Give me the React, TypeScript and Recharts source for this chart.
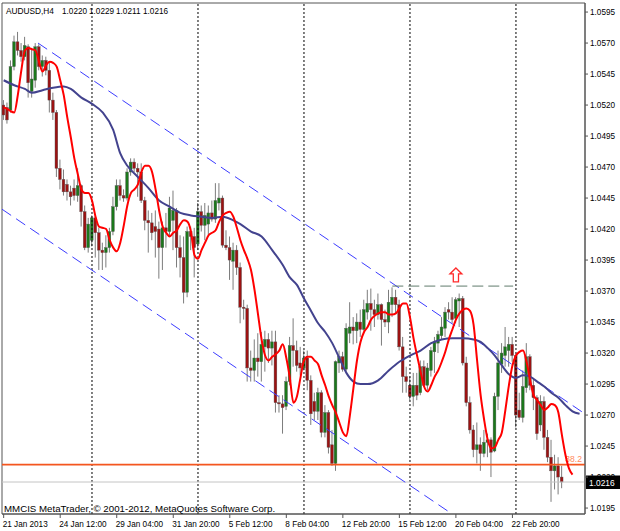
import React from 'react';
import { ComposedChart, Bar, Line, XAxis, YAxis, ReferenceLine, ReferenceDot, ReferenceArea } from 'recharts';

const FONT = '"Liberation Sans", Arial, sans-serif';

const openP = [
1.0520,1.0518,1.0516,1.0551,1.0571,1.0564,1.0559,1.0567,1.0531,1.0540,
1.0567,1.0551,1.0556,1.0548,1.0524,1.0514,1.0469,1.0460,1.0456,1.0450,
1.0453,1.0447,1.0455,1.0434,1.0405,1.0411,1.0429,1.0417,1.0403,1.0401,
1.0405,1.0418,1.0438,1.0455,1.0447,1.0445,1.0466,1.0474,1.0469,1.0466,
1.0443,1.0427,1.0425,1.0422,1.0420,1.0405,1.0421,1.0418,1.0427,1.0435,
1.0405,1.0397,1.0369,1.0418,1.0414,1.0408,1.0434,1.0423,1.0424,1.0433,
1.0428,1.0441,1.0445,1.0407,1.0405,1.0394,1.0403,1.0389,1.0357,1.0356,
1.0308,1.0306,1.0316,1.0313,1.0325,1.0331,1.0324,1.0329,1.0280,1.0279,
1.0277,1.0297,1.0326,1.0322,1.0312,1.0308,1.0316,1.0298,1.0281,1.0273,
1.0288,1.0256,1.0272,1.0246,1.0231,1.0312,1.0317,1.0307,1.0336,1.0341,
1.0338,1.0345,1.0339,1.0353,1.0360,1.0355,1.0351,1.0359,1.0347,1.0345,
1.0359,1.0365,1.0359,1.0325,1.0301,1.0294,1.0285,1.0294,1.0288,1.0309,
1.0294,1.0306,1.0321,1.0328,1.0334,1.0340,1.0355,1.0353,1.0348,1.0362,
1.0364,1.0312,1.0280,1.0258,1.0242,1.0246,1.0239,1.0248,1.0250,1.0241,
1.0285,1.0311,1.0318,1.0322,1.0327,1.0318,1.0274,1.0268,1.0292,1.0317,
1.0294,1.0284,1.0262,1.0281,1.0252,1.0236,1.0225,1.0229,1.0220];

const highP = [
1.0524,1.0522,1.0556,1.0576,1.0579,1.0570,1.0575,1.0569,1.0566,1.0570,
1.0569,1.0560,1.0559,1.0555,1.0530,1.0516,1.0476,1.0468,1.0460,1.0455,
1.0460,1.0469,1.0456,1.0439,1.0429,1.0431,1.0431,1.0421,1.0409,1.0415,
1.0421,1.0446,1.0460,1.0460,1.0452,1.0469,1.0477,1.0477,1.0473,1.0473,
1.0446,1.0435,1.0433,1.0435,1.0426,1.0426,1.0433,1.0446,1.0451,1.0437,
1.0415,1.0414,1.0422,1.0422,1.0421,1.0441,1.0439,1.0441,1.0439,1.0443,
1.0457,1.0457,1.0447,1.0419,1.0414,1.0409,1.0407,1.0393,1.0363,1.0359,
1.0322,1.0331,1.0336,1.0337,1.0338,1.0336,1.0338,1.0338,1.0286,1.0286,
1.0301,1.0333,1.0348,1.0330,1.0325,1.0322,1.0322,1.0302,1.0288,1.0292,
1.0290,1.0278,1.0274,1.0258,1.0314,1.0322,1.0321,1.0344,1.0361,1.0349,
1.0352,1.0355,1.0363,1.0371,1.0372,1.0363,1.0368,1.0360,1.0355,1.0371,
1.0373,1.0371,1.0363,1.0333,1.0309,1.0301,1.0304,1.0304,1.0314,1.0314,
1.0312,1.0325,1.0333,1.0338,1.0349,1.0357,1.0361,1.0365,1.0365,1.0368,
1.0366,1.0317,1.0285,1.0262,1.0264,1.0252,1.0258,1.0255,1.0252,1.0288,
1.0322,1.0328,1.0341,1.0333,1.0333,1.0319,1.0288,1.0306,1.0328,1.0319,
1.0300,1.0286,1.0286,1.0285,1.0258,1.0250,1.0238,1.0236,1.0229];

const lowP = [
1.0508,1.0505,1.0514,1.0548,1.0560,1.0555,1.0556,1.0526,1.0526,1.0534,
1.0548,1.0543,1.0544,1.0514,1.0508,1.0462,1.0452,1.0447,1.0443,1.0439,
1.0443,1.0442,1.0422,1.0403,1.0401,1.0406,1.0397,1.0387,1.0387,1.0389,
1.0401,1.0415,1.0435,1.0443,1.0442,1.0443,1.0463,1.0466,1.0446,1.0441,
1.0419,1.0401,1.0411,1.0397,1.0380,1.0387,1.0405,1.0414,1.0403,1.0389,
1.0381,1.0360,1.0365,1.0403,1.0381,1.0403,1.0418,1.0411,1.0415,1.0426,
1.0425,1.0435,1.0405,1.0403,1.0379,1.0371,1.0383,1.0344,1.0347,1.0297,
1.0297,1.0297,1.0301,1.0297,1.0305,1.0312,1.0310,1.0272,1.0272,1.0255,
1.0274,1.0294,1.0309,1.0305,1.0302,1.0306,1.0290,1.0262,1.0266,1.0266,
1.0252,1.0252,1.0239,1.0229,1.0225,1.0304,1.0305,1.0305,1.0328,1.0327,
1.0328,1.0333,1.0338,1.0347,1.0338,1.0341,1.0347,1.0326,1.0341,1.0336,
1.0349,1.0352,1.0322,1.0288,1.0288,1.0282,1.0277,1.0282,1.0286,1.0293,
1.0290,1.0301,1.0304,1.0320,1.0331,1.0333,1.0347,1.0344,1.0344,1.0341,
1.0310,1.0277,1.0255,1.0236,1.0231,1.0225,1.0236,1.0236,1.0220,1.0240,
1.0274,1.0304,1.0309,1.0309,1.0313,1.0260,1.0266,1.0264,1.0288,1.0290,
1.0274,1.0250,1.0257,1.0242,1.0232,1.0200,1.0210,1.0206,1.0211];

const closeP = [
1.0512,1.0508,1.0551,1.0571,1.0564,1.0559,1.0568,1.0538,1.0541,1.0567,
1.0551,1.0556,1.0548,1.0524,1.0514,1.0469,1.0460,1.0450,1.0450,1.0446,
1.0447,1.0455,1.0434,1.0405,1.0424,1.0429,1.0417,1.0403,1.0401,1.0405,
1.0418,1.0438,1.0455,1.0447,1.0445,1.0466,1.0474,1.0469,1.0466,1.0443,
1.0427,1.0425,1.0417,1.0418,1.0405,1.0421,1.0418,1.0437,1.0435,1.0405,
1.0397,1.0369,1.0418,1.0414,1.0405,1.0434,1.0423,1.0431,1.0433,1.0428,
1.0443,1.0445,1.0407,1.0405,1.0395,1.0403,1.0389,1.0357,1.0356,1.0308,
1.0306,1.0316,1.0313,1.0327,1.0331,1.0324,1.0329,1.0280,1.0279,1.0276,
1.0297,1.0326,1.0322,1.0310,1.0308,1.0316,1.0298,1.0271,1.0273,1.0288,
1.0256,1.0272,1.0244,1.0231,1.0313,1.0317,1.0307,1.0340,1.0341,1.0338,
1.0345,1.0339,1.0355,1.0360,1.0355,1.0351,1.0359,1.0347,1.0345,1.0361,
1.0365,1.0359,1.0325,1.0301,1.0297,1.0285,1.0294,1.0286,1.0309,1.0294,
1.0308,1.0322,1.0329,1.0335,1.0341,1.0353,1.0353,1.0347,1.0363,1.0364,
1.0312,1.0280,1.0258,1.0242,1.0246,1.0239,1.0248,1.0250,1.0240,1.0285,
1.0312,1.0320,1.0325,1.0327,1.0318,1.0270,1.0268,1.0293,1.0317,1.0294,
1.0284,1.0255,1.0281,1.0252,1.0236,1.0225,1.0229,1.0220,1.0216];

const redMA = [
1.0518,1.0517,1.0515,1.0514,1.0528,1.0548,1.0564,1.0566,1.0565,1.0564,
1.0555,1.0547,1.0552,1.0555,1.0554,1.0551,1.0540,1.0528,1.0510,1.0494,
1.0477,1.0464,1.0452,1.0449,1.0449,1.0443,1.0430,1.0422,1.0421,1.0420,
1.0411,1.0405,1.0402,1.0409,1.0423,1.0439,1.0449,1.0452,1.0456,1.0466,
1.0471,1.0471,1.0466,1.0452,1.0435,1.0422,1.0417,1.0414,1.0417,1.0419,
1.0424,1.0427,1.0426,1.0418,1.0399,1.0396,1.0403,1.0409,1.0415,1.0417,
1.0419,1.0426,1.0431,1.0433,1.0434,1.0430,1.0421,1.0411,1.0403,1.0396,
1.0387,1.0371,1.0351,1.0331,1.0318,1.0314,1.0317,1.0319,1.0322,1.0327,
1.0316,1.0300,1.0280,1.0285,1.0300,1.0314,1.0317,1.0317,1.0314,1.0311,
1.0302,1.0294,1.0285,1.0278,1.0272,1.0264,1.0256,1.0253,1.0270,1.0292,
1.0314,1.0329,1.0337,1.0341,1.0347,1.0350,1.0352,1.0353,1.0353,1.0351,
1.0351,1.0352,1.0356,1.0360,1.0360,1.0349,1.0332,1.0318,1.0305,1.0293,
1.0289,1.0294,1.0301,1.0306,1.0313,1.0321,1.0331,1.0339,1.0347,1.0352,
1.0355,1.0356,1.0354,1.0343,1.0314,1.0286,1.0266,1.0250,1.0243,1.0244,
1.0250,1.0256,1.0274,1.0294,1.0310,1.0318,1.0321,1.0322,1.0313,1.0298,
1.0286,1.0282,1.0278,1.0274,1.0276,1.0279,1.0278,1.0272,1.0254,1.0238,
1.0227,1.0222];

const navyIdx = [0,3,6,8,11,14,17,19,22,25,28,31,33,35,38,41,44,47,50,53,56,59,62,65,67,70,73,76,79,81,83,85,87,89,91,93,95,97,99,101,103,106,109,112,115,118,121,124,127,130,133,135,137,139,141,143,145,147,149,151,153,155,157,159,161,163];
const navyMA = [1.0540,1.0536,1.0533,1.0530,1.0532,1.0534,1.0535,1.0533,1.0526,1.0521,1.0514,1.0500,1.0481,1.0471,1.0462,1.0453,1.0443,1.0438,1.0433,1.0431,1.0430,1.0429,1.0430,1.0427,1.0424,1.0418,1.0414,1.0403,1.0391,1.0381,1.0375,1.0364,1.0354,1.0344,1.0337,1.0328,1.0316,1.0304,1.0297,1.0295,1.0295,1.0298,1.0306,1.0313,1.0318,1.0322,1.0328,1.0331,1.0332,1.0332,1.0331,1.0329,1.0324,1.0318,1.0310,1.0303,1.0300,1.0302,1.0301,1.0297,1.0293,1.0288,1.0284,1.0278,1.0273,1.0271];

const priceTicks = [1.0195,1.0220,1.0245,1.0270,1.0295,1.0320,1.0345,1.0370,1.0395,1.0420,1.0445,1.0470,1.0495,1.0520,1.0545,1.0570,1.0595];
const timeTicks = [0,16,32,48,64,80,96,112,128,144];
const timeLabels = ['21 Jan 2013','24 Jan 12:00','29 Jan 04:00','31 Jan 20:00','5 Feb 12:00','8 Feb 04:00','12 Feb 20:00','15 Feb 12:00','20 Feb 04:00','22 Feb 20:00'];
const weekStarts = [25,55,85,115,145];

const upperChannel = [{ x: 9.72, y: 1.0570 }, { x: 164.5, y: 1.0271 }];
const lowerChannel = [{ x: -0.47, y: 1.0436 }, { x: 126, y: 1.0192 }];
const resistance = [{ x: 110, y: 1.0374 }, { x: 144.2, y: 1.0374 }];
const fibLevel = 1.0230;
const fibText = '38.2';
const lastPrice = 1.0216;
const signalBar = 128;
const signalPrice = 1.0383;
const headerSymbol = 'AUDUSD,H4';
const headerValues = ['1.0220', '1.0229', '1.0211', '1.0216'];
const copyrightText = 'MMCIS MetaTrader, \u00a9 2001-2012, MetaQuotes Software Corp.';

const X_DOMAIN: [number, number] = [-0.473, 164.54];
const Y_DOMAIN: [number, number] = [1.01902, 1.06023];

const rows = Array.from({ length: 164 }, (_, i) => {
  const r: any = { i };
  if (i < openP.length) {
    r.range = [lowP[i], highP[i]];
    r.o = openP[i]; r.h = highP[i]; r.l = lowP[i]; r.c = closeP[i];
  }
  if (i < redMA.length) r.red = redMA[i];
  const k = navyIdx.indexOf(i);
  if (k >= 0) r.navy = navyMA[k];
  return r;
});

const Candle = (props: any) => {
  const { x, y, width, height, payload } = props;
  if (!payload || payload.o === undefined || !isFinite(y) || !isFinite(height)) return <g />;
  const { o, c, h, l } = payload;
  const top = Math.min(y, y + height);
  const hh = Math.abs(height);
  const span = h - l;
  const toY = (v: number) => (span === 0 ? top : top + ((h - v) / span) * hh);
  const cx = x + width / 2;
  const yo = toY(o);
  const yc = toY(c);
  const bt = Math.min(yo, yc);
  const bb = Math.max(yo, yc);
  const up = c >= o;
  return (
    <g>
      <line x1={cx} x2={cx} y1={top} y2={top + hh} stroke="#7c7c7c" strokeWidth={1} />
      <rect x={cx - 1.4} y={bt} width={2.8} height={Math.max(bb - bt, 1)} fill={up ? '#1b781b' : '#9c1212'} stroke="#555" strokeWidth={0.4} />
    </g>
  );
};

const TimeTick = (props: any) => {
  const { x, y, payload } = props;
  const k = timeTicks.indexOf(payload.value);
  return (
    <g>
      <line x1={x} x2={x} y1={y} y2={y + 4} stroke="#555" strokeWidth={1} />
      <text x={x - 1} y={y + 13} fontSize={8.2} fontFamily={FONT} fill="#000" textAnchor="start">
        {k >= 0 ? timeLabels[k] : ''}
      </text>
    </g>
  );
};

const PriceTag = (props: any) => {
  const vb = props.viewBox || {};
  const x0 = vb.x + vb.width;
  const yy = vb.y;
  return (
    <g>
      <rect x={x0 + 1} y={yy - 6.5} width={34} height={13.5} fill="#000" />
      <text x={x0 + 4} y={yy + 3.5} fontSize={8.4} fontFamily={FONT} fill="#fff">{lastPrice.toFixed(4)}</text>
    </g>
  );
};

const FibLabel = (props: any) => {
  const vb = props.viewBox || {};
  return (
    <text x={vb.x + vb.width - 3} y={vb.y - 3} fontSize={8.6} fontFamily={FONT} fill="#ff8a5c" textAnchor="end">
      {fibText}
    </text>
  );
};

const UpArrow = (props: any) => {
  const { cx, cy } = props;
  if (!isFinite(cx) || !isFinite(cy)) return <g />;
  const pts = [
    [cx, cy - 7], [cx + 6, cy - 1], [cx + 2.6, cy - 1], [cx + 2.6, cy + 7],
    [cx - 2.6, cy + 7], [cx - 2.6, cy - 1], [cx - 6, cy - 1],
  ].map((p) => p.join(',')).join(' ');
  return <polygon points={pts} fill="#fff" stroke="#ff2a2a" strokeWidth={1.3} />;
};

const headerX = [62, 89, 116, 143];

export default function App() {
  return (
    <div style={{ position: 'absolute', left: 0, top: 0, width: 620, height: 531, background: '#fff', fontFamily: FONT }}>
      <ComposedChart
        width={620}
        height={531}
        data={rows}
        margin={{ top: 3, right: 0, bottom: 0, left: 2 }}
      >
        <XAxis
          dataKey="i"
          type="number"
          domain={X_DOMAIN}
          allowDataOverflow
          ticks={timeTicks}
          interval={0}
          tick={<TimeTick />}
          tickLine={false}
          tickSize={0}
          tickMargin={0}
          height={17}
          axisLine={{ stroke: '#555' }}
        />
        <YAxis
          orientation="right"
          type="number"
          domain={Y_DOMAIN}
          allowDataOverflow
          ticks={priceTicks}
          interval={0}
          width={35}
          tickSize={3}
          tickMargin={2}
          tickFormatter={(v: number) => v.toFixed(4)}
          tick={{ fontSize: 8.2, fill: '#000', fontFamily: FONT }}
          tickLine={{ stroke: '#555' }}
          axisLine={{ stroke: '#555' }}
        />
        <ReferenceArea x1={X_DOMAIN[0]} x2={X_DOMAIN[1]} y1={Y_DOMAIN[0]} y2={Y_DOMAIN[1]} fill="none" stroke="#555" strokeWidth={1} ifOverflow="visible" />
        {weekStarts.map((w) => (
          <ReferenceLine key={w} x={w} stroke="#000" strokeWidth={1} strokeDasharray="2 2" ifOverflow="visible" />
        ))}
        <ReferenceLine y={lastPrice} stroke="#c4c4c4" strokeWidth={1} ifOverflow="visible" />
        <ReferenceLine segment={upperChannel} stroke="#3c3cff" strokeWidth={1} strokeDasharray="11 6" ifOverflow="visible" />
        <ReferenceLine segment={lowerChannel} stroke="#3c3cff" strokeWidth={1} strokeDasharray="11 6" ifOverflow="visible" />
        <ReferenceLine segment={resistance} stroke="#5f7a6c" strokeWidth={1} strokeDasharray="11 5" ifOverflow="visible" />
        <Bar dataKey="range" barSize={3} shape={<Candle />} isAnimationActive={false} />
        <ReferenceLine y={fibLevel} stroke="#f4561f" strokeWidth={1.8} ifOverflow="visible" label={<FibLabel />} />
        <Line dataKey="navy" type="monotone" stroke="#43438e" strokeWidth={2} dot={false} connectNulls isAnimationActive={false} />
        <Line dataKey="red" type="monotone" stroke="#ff0000" strokeWidth={2} dot={false} isAnimationActive={false} />
        <ReferenceDot x={signalBar} y={signalPrice} r={7} shape={<UpArrow />} ifOverflow="visible" />
        <ReferenceLine y={lastPrice} stroke="none" ifOverflow="visible" label={<PriceTag />} />
      </ComposedChart>
      <svg width={620} height={531} style={{ position: 'absolute', left: 0, top: 0, pointerEvents: 'none' }}>
        <text x={6} y={14} fontSize={8.6} fontFamily={FONT} fill="#000" textLength={48} lengthAdjust="spacingAndGlyphs">{headerSymbol}</text>
        {headerValues.map((v, k) => (
          <text key={k} x={headerX[k]} y={14} fontSize={8.2} fontFamily={FONT} fill="#000">{v}</text>
        ))}
        <text x={4} y={511.5} fontSize={9.7} fontFamily={FONT} fill="#000">{copyrightText}</text>
      </svg>
    </div>
  );
}
